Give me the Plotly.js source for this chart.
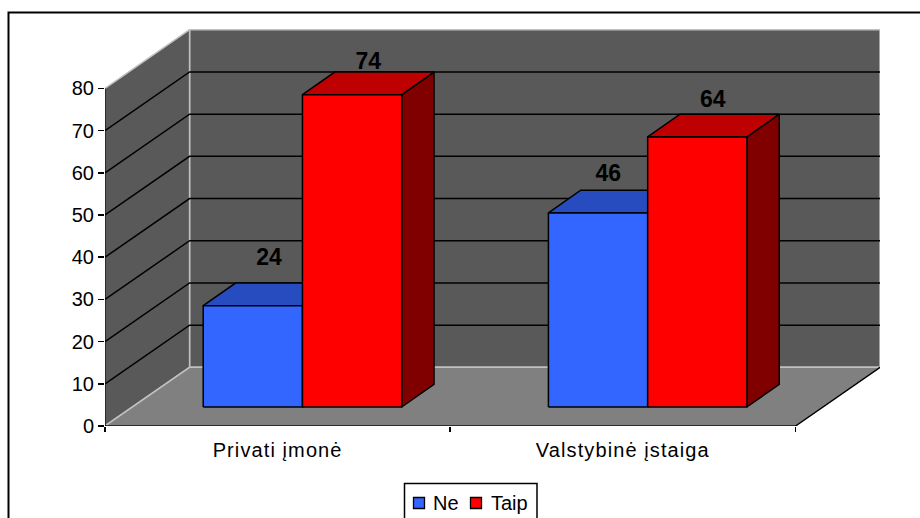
<!DOCTYPE html>
<html>
<head>
<meta charset="utf-8">
<script src="https://cdn.plot.ly/plotly-3.0.1.min.js"></script>
<style>
html,body{margin:0;padding:0;background:#fff;overflow:hidden}
/* Category labels are set slightly wider than the default tracking */
#chart .xtick text{letter-spacing:1.1px}
</style>
</head>
<body>
<div id="chart" style="width:920px;height:518px"></div>
<script>
// Survey results by workplace type
const categories = ['Privati įmonė', 'Valstybinė įstaiga'];
const seriesNames = ['Ne', 'Taip'];
const neValues = [24, 46];
const taipValues = [74, 64];
const valueTicks = [0, 10, 20, 30, 40, 50, 60, 70, 80];

// Oblique projection of the box, in axis units
const wallDepthX = 0.245, wallDepthY = 13.9;
const barWidth = 0.2875, barShiftX = 0.072, barBaseY = 4.5;
const barDepthX = 0.0936, barDepthY = 5.38;
const FONT = 'Liberation Sans, Arial, sans-serif';
const palette = [
  {front: '#3366FF', top: '#264CBF', side: '#19337F'},
  {front: '#FF0000', top: '#BF0000', side: '#800000'}
];
// Hand placement of the value labels, in axis units: [Ne, Taip] per category
const labelNudgeX = [[0, 0], [-0.017, -0.002]];
const labelNudgeY = [[2.9, -0.7], [0.75, 0.3]];

const traces = [];
function poly(xs, ys, fill, line, width) {
  traces.push({
    type: 'scatter', mode: 'lines', x: xs.concat(xs[0]), y: ys.concat(ys[0]),
    fill: 'toself', fillcolor: fill, line: {color: line, width: width},
    hoverinfo: 'skip', showlegend: false, cliponaxis: false
  });
}
function path(xs, ys, color, width) {
  traces.push({
    type: 'scatter', mode: 'lines', x: xs, y: ys, line: {color: color, width: width},
    hoverinfo: 'skip', showlegend: false, cliponaxis: false
  });
}

const nCat = categories.length;
const topV = valueTicks[valueTicks.length - 1];
const WALL = '#595959', FLOOR = '#808080', EDGE = '#C0C0C0';

// Back wall, side wall and floor
poly([wallDepthX, nCat + wallDepthX, nCat + wallDepthX, wallDepthX],
     [wallDepthY, wallDepthY, topV + wallDepthY, topV + wallDepthY], WALL, EDGE, 1.5);
poly([0, wallDepthX, wallDepthX, 0], [0, wallDepthY, topV + wallDepthY, topV], WALL, EDGE, 1.5);
poly([0, nCat, nCat + wallDepthX, wallDepthX], [0, 0, wallDepthY, wallDepthY], FLOOR, EDGE, 1.5);

// Gridlines run along the side wall and across the back wall
valueTicks.slice(1, -1).forEach(v => {
  path([0, wallDepthX, nCat + wallDepthX], [v, v + wallDepthY, v + wallDepthY], '#000', 1.5);
});

// Axis lines in front of the box
path([0, 0], [0, topV], '#000', 1.5);
path([0, nCat, nCat + wallDepthX], [0, 0, wallDepthY], '#000', 1.5);

// Bars: side and top first, then the front face
const labelX = [], labelY = [], labelText = [];
categories.forEach((c, i) => {
  [neValues[i], taipValues[i]].forEach((v, s) => {
    const xL = i + 0.5 + barShiftX + (s === 0 ? -barWidth : 0);
    const xR = xL + barWidth;
    const yT = barBaseY + v;
    const col = palette[s];
    poly([xR, xR + barDepthX, xR + barDepthX, xR],
         [barBaseY, barBaseY + barDepthY, yT + barDepthY, yT], col.side, '#000', 1.5);
    poly([xL, xR, xR + barDepthX, xL + barDepthX],
         [yT, yT, yT + barDepthY, yT + barDepthY], col.top, '#000', 1.5);
    poly([xL, xR, xR, xL], [barBaseY, barBaseY, yT, yT], col.front, '#000', 1.5);
    labelX.push(xL + barWidth / 2 + barDepthX / 2 + labelNudgeX[i][s]);
    labelY.push(yT + barDepthY + labelNudgeY[i][s]);
    labelText.push(String(v));
  });
});

// Value labels above each bar
traces.push({
  type: 'scatter', mode: 'text', x: labelX, y: labelY, text: labelText,
  textposition: 'top center', cliponaxis: false, hoverinfo: 'skip', showlegend: false,
  textfont: {family: FONT, size: 23, color: '#000', weight: 700}
});

// Paper coordinates for the frame and the key
const L = 105, T = 29, W = 775, H = 397;
const px = x => (x - L) / W;
const py = y => (T + H - y) / H;
const paperRect = (x0, y0, x1, y1, fill, width) => ({
  type: 'rect', xref: 'paper', yref: 'paper', x0: px(x0), x1: px(x1), y0: py(y0), y1: py(y1),
  fillcolor: fill, line: {color: '#000', width: width}, layer: 'above'
});

const layout = {
  width: 920, height: 518, autosize: false,
  margin: {l: L, r: 920 - L - W, t: T, b: 518 - T - H, pad: 0, autoexpand: false},
  paper_bgcolor: '#fff', plot_bgcolor: '#fff',
  font: {family: FONT, size: 20, color: '#000'},
  showlegend: false, hovermode: false,
  xaxis: {
    range: [0, nCat + wallDepthX], showgrid: false, zeroline: false, showline: false,
    tickmode: 'array', tickvals: categories.map((c, i) => i + 0.5), ticktext: categories,
    ticks: '', ticklabelstandoff: 10, tickfont: {family: FONT, size: 20, color: '#000'},
    minor: {tickmode: 'array', tickvals: [0, 1, 2], ticks: 'outside', ticklen: 5, tickwidth: 1.5, tickcolor: '#000', showgrid: false}
  },
  yaxis: {
    range: [0, H / 4.22], showgrid: false, zeroline: false, showline: false,
    tickmode: 'array', tickvals: valueTicks, ticktext: valueTicks.map(String),
    ticks: 'outside', ticklen: 6, tickwidth: 1.5, tickcolor: '#000',
    tickfont: {family: FONT, size: 20, color: '#000'}
  },
  shapes: [
    paperRect(8.5, 12.5, 940, 540, 'rgba(0,0,0,0)', 2),
    paperRect(404.5, 483.5, 537, 540, '#fff', 1.5),
    paperRect(413.5, 497.5, 424.5, 508.5, palette[0].front, 1.3),
    paperRect(470.5, 497.5, 481.5, 508.5, palette[1].front, 1.3)
  ],
  annotations: [
    {text: seriesNames[0], xref: 'paper', yref: 'paper', x: px(432), y: py(503), xanchor: 'left', yanchor: 'middle', showarrow: false, font: {family: FONT, size: 20, color: '#000'}, borderpad: 0},
    {text: seriesNames[1], xref: 'paper', yref: 'paper', x: px(490), y: py(503), xanchor: 'left', yanchor: 'middle', showarrow: false, font: {family: FONT, size: 20, color: '#000'}, borderpad: 0}
  ]
};

Plotly.newPlot('chart', traces, layout, {displayModeBar: false, staticPlot: true});
</script>
</body>
</html>
